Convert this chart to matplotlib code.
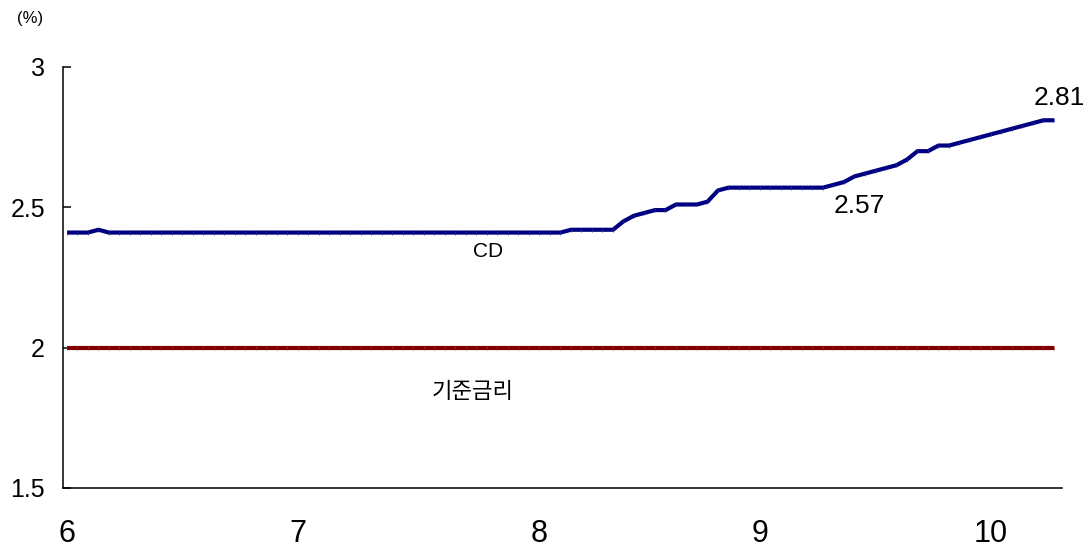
import matplotlib
matplotlib.use('Agg')
import matplotlib.pyplot as plt

plt.rcParams['font.family'] = ['Liberation Sans', 'Noto Sans CJK KR', 'DejaVu Sans']

# daily business-day series, June through late October
cd_rate = [
    2.41, 2.41, 2.41, 2.42, 2.41, 2.41, 2.41, 2.41, 2.41, 2.41,
    2.41, 2.41, 2.41, 2.41, 2.41, 2.41, 2.41, 2.41, 2.41, 2.41,
    2.41, 2.41, 2.41, 2.41, 2.41, 2.41, 2.41, 2.41, 2.41, 2.41,
    2.41, 2.41, 2.41, 2.41, 2.41, 2.41, 2.41, 2.41, 2.41, 2.41,
    2.41, 2.41, 2.41, 2.41, 2.41, 2.41, 2.41, 2.41, 2.42, 2.42,
    2.42, 2.42, 2.42, 2.45, 2.47, 2.48, 2.49, 2.49, 2.51, 2.51,
    2.51, 2.52, 2.56, 2.57, 2.57, 2.57, 2.57, 2.57, 2.57, 2.57,
    2.57, 2.57, 2.57, 2.58, 2.59, 2.61, 2.62, 2.63, 2.64, 2.65,
    2.67, 2.70, 2.70, 2.72, 2.72, 2.73, 2.74, 2.75, 2.76, 2.77,
    2.78, 2.79, 2.80, 2.81, 2.81,
]
base_rate = [
    2.00, 2.00, 2.00, 2.00, 2.00, 2.00, 2.00, 2.00, 2.00, 2.00,
    2.00, 2.00, 2.00, 2.00, 2.00, 2.00, 2.00, 2.00, 2.00, 2.00,
    2.00, 2.00, 2.00, 2.00, 2.00, 2.00, 2.00, 2.00, 2.00, 2.00,
    2.00, 2.00, 2.00, 2.00, 2.00, 2.00, 2.00, 2.00, 2.00, 2.00,
    2.00, 2.00, 2.00, 2.00, 2.00, 2.00, 2.00, 2.00, 2.00, 2.00,
    2.00, 2.00, 2.00, 2.00, 2.00, 2.00, 2.00, 2.00, 2.00, 2.00,
    2.00, 2.00, 2.00, 2.00, 2.00, 2.00, 2.00, 2.00, 2.00, 2.00,
    2.00, 2.00, 2.00, 2.00, 2.00, 2.00, 2.00, 2.00, 2.00, 2.00,
    2.00, 2.00, 2.00, 2.00, 2.00, 2.00, 2.00, 2.00, 2.00, 2.00,
    2.00, 2.00, 2.00, 2.00, 2.00,
]
# first business day of each month (index into the series)
month_pos = [0, 22, 45, 66, 88]
month_labels = ['6', '7', '8', '9', '10']

x = list(range(len(cd_rate)))

fig = plt.figure(figsize=(10.92, 5.47), dpi=100)
ax = fig.add_axes([0.0577, 0.1079, 0.9148, 0.7697])

line_kw = dict(linewidth=3.0, solid_joinstyle='round', solid_capstyle='butt',
               marker='|', markersize=3, markeredgewidth=0.5)
ax.plot(x, base_rate, color='#800000', markeredgecolor='#952a2a', **line_kw)
ax.plot(x, cd_rate, color='#000080', markeredgecolor='#2a2a98', **line_kw)

ax.set_xlim(-0.38, 94.76)
ax.set_ylim(1.5, 3.0)
ax.set_yticks([1.5, 2.0, 2.5, 3.0])
ax.set_yticklabels(['1.5', '2', '2.5', '3'])
ax.set_xticks(month_pos)
ax.set_xticklabels(month_labels)

for side in ('top', 'right'):
    ax.spines[side].set_visible(False)
for side in ('left', 'bottom'):
    ax.spines[side].set_linewidth(1.1)

ax.tick_params(axis='y', direction='in', length=6, width=1.1, pad=13, labelsize=18)
ax.tick_params(axis='x', length=0, pad=22, labelsize=22)

# series labels and end values
ax.text(40.1, 2.342, 'CD', ha='center', va='center', fontsize=15)
ax.text(38.6, 1.84, '기준금리', ha='center', va='center', fontsize=16)
ax.text(94.5, 2.888, f'{cd_rate[-1]:.2f}', ha='center', va='center', fontsize=19)
ax.text(75.5, 2.505, f'{cd_rate[70]:.2f}', ha='center', va='center', fontsize=19)

fig.text(0.0275, 0.967, '(%)', ha='center', va='center', fontsize=12)

fig.savefig('out.png', dpi=100)
